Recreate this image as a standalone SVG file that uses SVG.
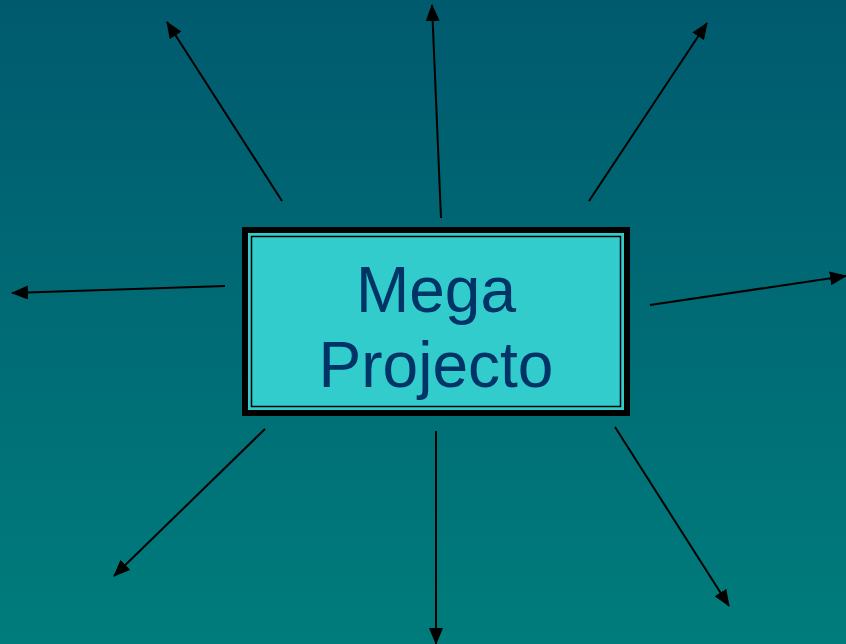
<svg xmlns="http://www.w3.org/2000/svg" width="846" height="644" viewBox="0 0 846 644">
<style>
.c line{stroke:#000;stroke-width:2;marker-end:url(#ah)}
.lbl{font-family:"Liberation Sans",Arial,sans-serif;font-size:64px;fill:#003366;text-anchor:middle}
</style>
<defs>
<linearGradient id="bg" x1="0" y1="0" x2="0" y2="1">
<stop offset="0" stop-color="#005a6e"/>
<stop offset="1" stop-color="#007c7c"/>
</linearGradient>
<marker id="ah" markerUnits="userSpaceOnUse" markerWidth="18" markerHeight="14" refX="16" refY="7" orient="auto">
<path d="M0,0 L17,7 L0,14 Z" fill="#000"/>
</marker>
</defs>
<rect width="846" height="644" fill="url(#bg)"/>
<g id="connectors" class="c">
<line x1="282" y1="201" x2="167" y2="22"/>
<line x1="441" y1="218" x2="432" y2="5"/>
<line x1="589" y1="201" x2="707" y2="23"/>
<line x1="225" y1="286" x2="12" y2="293"/>
<line x1="650" y1="305" x2="846" y2="276"/>
<line x1="265" y1="429" x2="114" y2="576"/>
<line x1="436" y1="431" x2="436" y2="644"/>
<line x1="615" y1="427" x2="729" y2="606"/>
</g>
<g id="mega-projecto">
<rect x="245" y="230" width="382" height="183" fill="#33cccc" stroke="#000" stroke-width="6"/>
<rect x="251.5" y="236.5" width="369" height="170" fill="none" stroke="#000" stroke-width="1.5"/>
<text class="lbl" x="436" y="312">Mega</text>
<text class="lbl" x="436" y="387">Projecto</text>
</g>
</svg>
